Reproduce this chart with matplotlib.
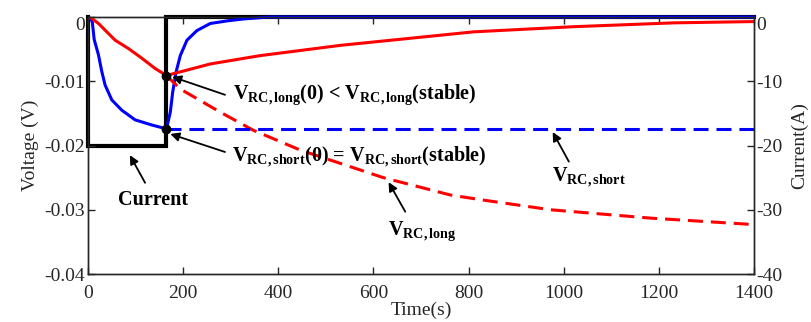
import matplotlib
matplotlib.use('Agg')
import matplotlib.pyplot as plt

plt.rcParams['font.family'] = 'Liberation Serif'
plt.rcParams['mathtext.fontset'] = 'custom'
plt.rcParams['mathtext.rm'] = 'Liberation Serif'
plt.rcParams['mathtext.bf'] = 'Liberation Serif:bold'
plt.rcParams['mathtext.it'] = 'Liberation Serif:italic'

# pulse (0-165 s) and relaxation of the two RC branches
t_pulse = [0, 4, 9, 13, 22, 29, 36, 50, 71, 99, 134, 165]
v_short_pulse = [0, 0, -0.0008, -0.0035, -0.0059, -0.0085, -0.0106, -0.0129,
                 -0.0145, -0.0160, -0.0168, -0.0174]
t_short_rest = [165, 173, 178, 185, 194, 208, 229, 257, 292, 326, 380, 1400]
v_short_rest = [-0.0174, -0.0148, -0.0117, -0.0086, -0.0060, -0.0036, -0.0021,
                -0.0010, -0.0006, -0.0003, 0, 0]

t_long_pulse = [0, 4, 22, 57, 85, 113, 141, 165]
v_long_pulse = [0, 0, -0.0010, -0.0036, -0.0049, -0.0064, -0.0080, -0.0091]
t_long_rest = [165, 180, 257, 362, 531, 811, 1021, 1232, 1400]
v_long_rest = [-0.0091, -0.0088, -0.0073, -0.0060, -0.0044, -0.0023, -0.0015,
               -0.0009, -0.0007]

# continued charge if the pulse went on
t_long_cont = [165, 194, 278, 347, 446, 621, 762, 832, 973, 1183, 1400]
v_long_cont = [-0.0091, -0.0112, -0.0148, -0.0176, -0.0207, -0.0250, -0.0277,
               -0.0285, -0.0300, -0.0313, -0.0323]
t_short_cont = [165, 1400]
v_short_cont = [-0.0174, -0.0174]

t_cur = [0, 0, 165, 165, 1400]
i_cur = [0, -20, -20, 0, 0]

fig = plt.figure(figsize=(8.12, 3.22), dpi=100)
ax = fig.add_axes([0.1084, 0.149, 0.820, 0.798])
ax2 = ax.twinx()
ax.set_zorder(ax2.get_zorder() + 1)
ax.patch.set_visible(False)

gray = '#262626'

ax2.plot(t_cur, i_cur, color='k', lw=3.0, clip_on=False, solid_joinstyle='miter')
ax2.set_ylim(-40, 0)
ax2.set_yticks([-40, -30, -20, -10, 0])

ax.plot(t_pulse, v_short_pulse, color='b', lw=2.2)
ax.plot(t_short_rest, v_short_rest, color='b', lw=2.2, clip_on=False)
ax.plot(t_long_pulse, v_long_pulse, color='r', lw=2.2)
ax.plot(t_long_rest, v_long_rest, color='r', lw=2.2)
ax.plot(t_long_cont, v_long_cont, color='r', lw=2.2, ls=(0, (4.9, 2.6)))
ax.plot(t_short_cont, v_short_cont, color='b', lw=2.2, ls=(0, (4.9, 2.6)))
ax.plot([t_long_pulse[-1], t_pulse[-1]], [v_long_pulse[-1], v_short_pulse[-1]],
        'o', color='k', ms=6, zorder=5)

ax.set_xlim(0, 1400)
ax.set_ylim(-0.04, 0)
ax.set_xticks(range(0, 1401, 200))
ax.set_yticks([-0.04, -0.03, -0.02, -0.01, 0])
ax.set_yticklabels(['-0.04', '-0.03', '-0.02', '-0.01', '0'])
ax2.set_yticklabels(['-40', '-30', '-20', '-10', '0'])

for a in (ax, ax2):
    for s in a.spines.values():
        s.set_color(gray)
        s.set_linewidth(1.0)
    a.tick_params(direction='in', length=5, width=1.0, colors=gray,
                  labelsize=14, pad=2)
ax.tick_params(axis='x', pad=8)
ax.tick_params(top=True, labeltop=False)

# top labels sit just under the upper edge
ax.get_yticklabels()[-1].set_verticalalignment('top')
ax2.get_yticklabels()[-1].set_verticalalignment('top')

ax.set_xlabel('Time(s)', fontsize=14, color=gray, labelpad=0)
ax.set_ylabel('Voltage (V)', fontsize=14, color=gray, labelpad=4)
ax2.set_ylabel('Current(A)', fontsize=14, color=gray, labelpad=6)

arrow = dict(arrowstyle='-|>', color='k', lw=1.3, mutation_scale=13,
             shrinkA=0, shrinkB=0)
fs = 14.5

ax.annotate('', xy=(177, -0.0093), xytext=(288, -0.0121), arrowprops=arrow)
ax.text(305, -0.0121,
        r'$\mathbf{V_{RC,long}(0)}$ < $\mathbf{V_{RC,long}(stable)}$',
        fontsize=fs, fontweight='bold', ha='left', va='center')

ax.annotate('', xy=(173, -0.0182), xytext=(288, -0.0210), arrowprops=arrow)
ax.text(303, -0.0218,
        r'$\mathbf{V_{RC,short}(0)}$ = $\mathbf{V_{RC,short}(stable)}$',
        fontsize=fs, fontweight='bold', ha='left', va='center')

ax.annotate('', xy=(88, -0.0215), xytext=(120, -0.0258), arrowprops=arrow)
ax.text(137, -0.0285, 'Current', fontsize=fs, fontweight='bold',
        ha='center', va='center')

ax.annotate('', xy=(632, -0.0257), xytext=(667, -0.0303), arrowprops=arrow)
ax.text(703, -0.0333, r'$\mathbf{V_{RC,long}}$', fontsize=fs,
        ha='center', va='center')

ax.annotate('', xy=(977, -0.0179), xytext=(1011, -0.0225), arrowprops=arrow)
ax.text(1053, -0.0250, r'$\mathbf{V_{RC,short}}$', fontsize=fs,
        ha='center', va='center')

fig.savefig('out.png', dpi=100)
